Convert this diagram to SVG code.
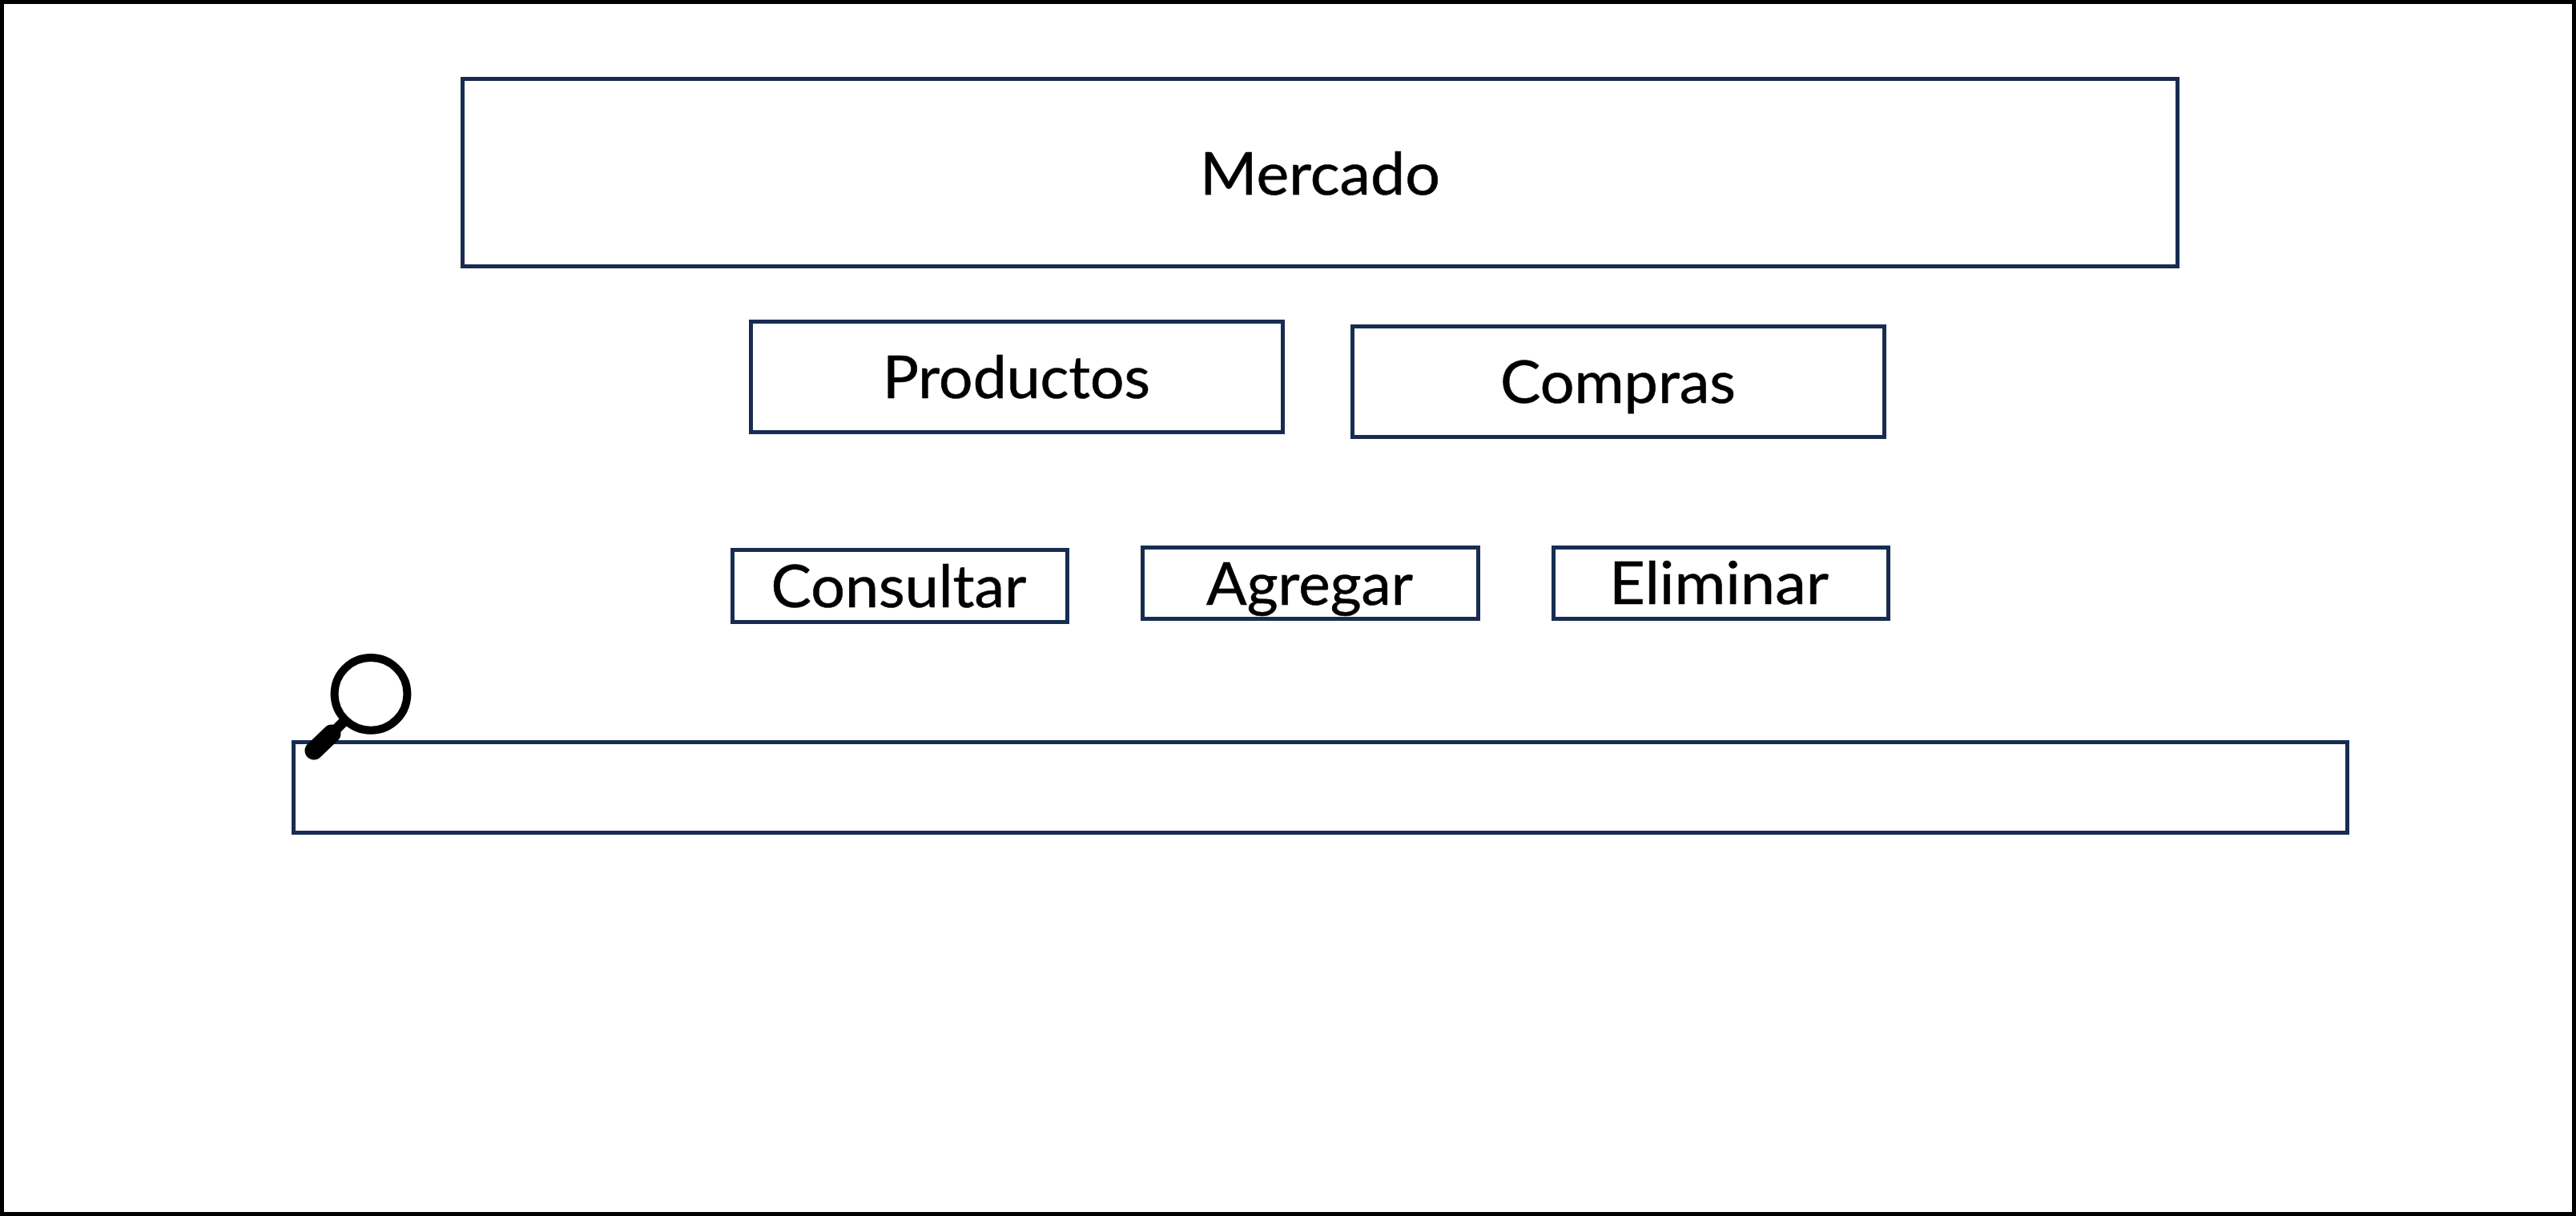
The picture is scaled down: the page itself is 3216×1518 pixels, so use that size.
<svg xmlns="http://www.w3.org/2000/svg" width="3216" height="1518" viewBox="0 0 3216 1518">
<style>
.box{fill:#fff;stroke:#172c51;stroke-width:5}
.lbl{font-family:"Lato","Open Sans","Liberation Sans",sans-serif;font-size:74px;fill:#000;text-anchor:middle;stroke:#000;stroke-width:.6}
</style>
<rect x="0" y="0" width="3216" height="1518" fill="#fff"/>
<rect id="frame" x="2.5" y="2.5" width="3211" height="1513" fill="none" stroke="#000" stroke-width="5"/>
<g id="mercado"><rect class="box" x="577.5" y="98.5" width="2141" height="234"/><text class="lbl" x="1648" y="243" textLength="300" lengthAdjust="spacingAndGlyphs">Mercado</text></g>
<g id="productos"><rect class="box" x="937.5" y="401.5" width="664" height="138"/><text class="lbl" x="1269" y="497" textLength="334" lengthAdjust="spacingAndGlyphs">Productos</text></g>
<g id="compras"><rect class="box" x="1688.5" y="407.5" width="664" height="138"/><text class="lbl" x="2020" y="503" textLength="294" lengthAdjust="spacingAndGlyphs">Compras</text></g>
<g id="consultar"><rect class="box" x="914.5" y="686.5" width="418" height="90"/><text class="lbl" x="1122" y="758" textLength="319" lengthAdjust="spacingAndGlyphs">Consultar</text></g>
<g id="agregar"><rect class="box" x="1426.5" y="683.5" width="419" height="89"/><text class="lbl" x="1635" y="755" textLength="258" lengthAdjust="spacingAndGlyphs">Agregar</text></g>
<g id="eliminar"><rect class="box" x="1939.5" y="683.5" width="418" height="89"/><text class="lbl" x="2146" y="754" textLength="274" lengthAdjust="spacingAndGlyphs">Eliminar</text></g>
<g id="buscador"><rect class="box" x="366.5" y="926.5" width="2564" height="113"/></g>
<g id="lupa">
<circle cx="463" cy="866.3" r="45.4" fill="none" stroke="#000" stroke-width="10"/>
<line x1="392" y1="937" x2="414" y2="916" stroke="#000" stroke-width="23" stroke-linecap="round"/>
<line x1="412" y1="918" x2="433" y2="897" stroke="#000" stroke-width="13"/>
</g>
<g id="connectors"></g>
</svg>
